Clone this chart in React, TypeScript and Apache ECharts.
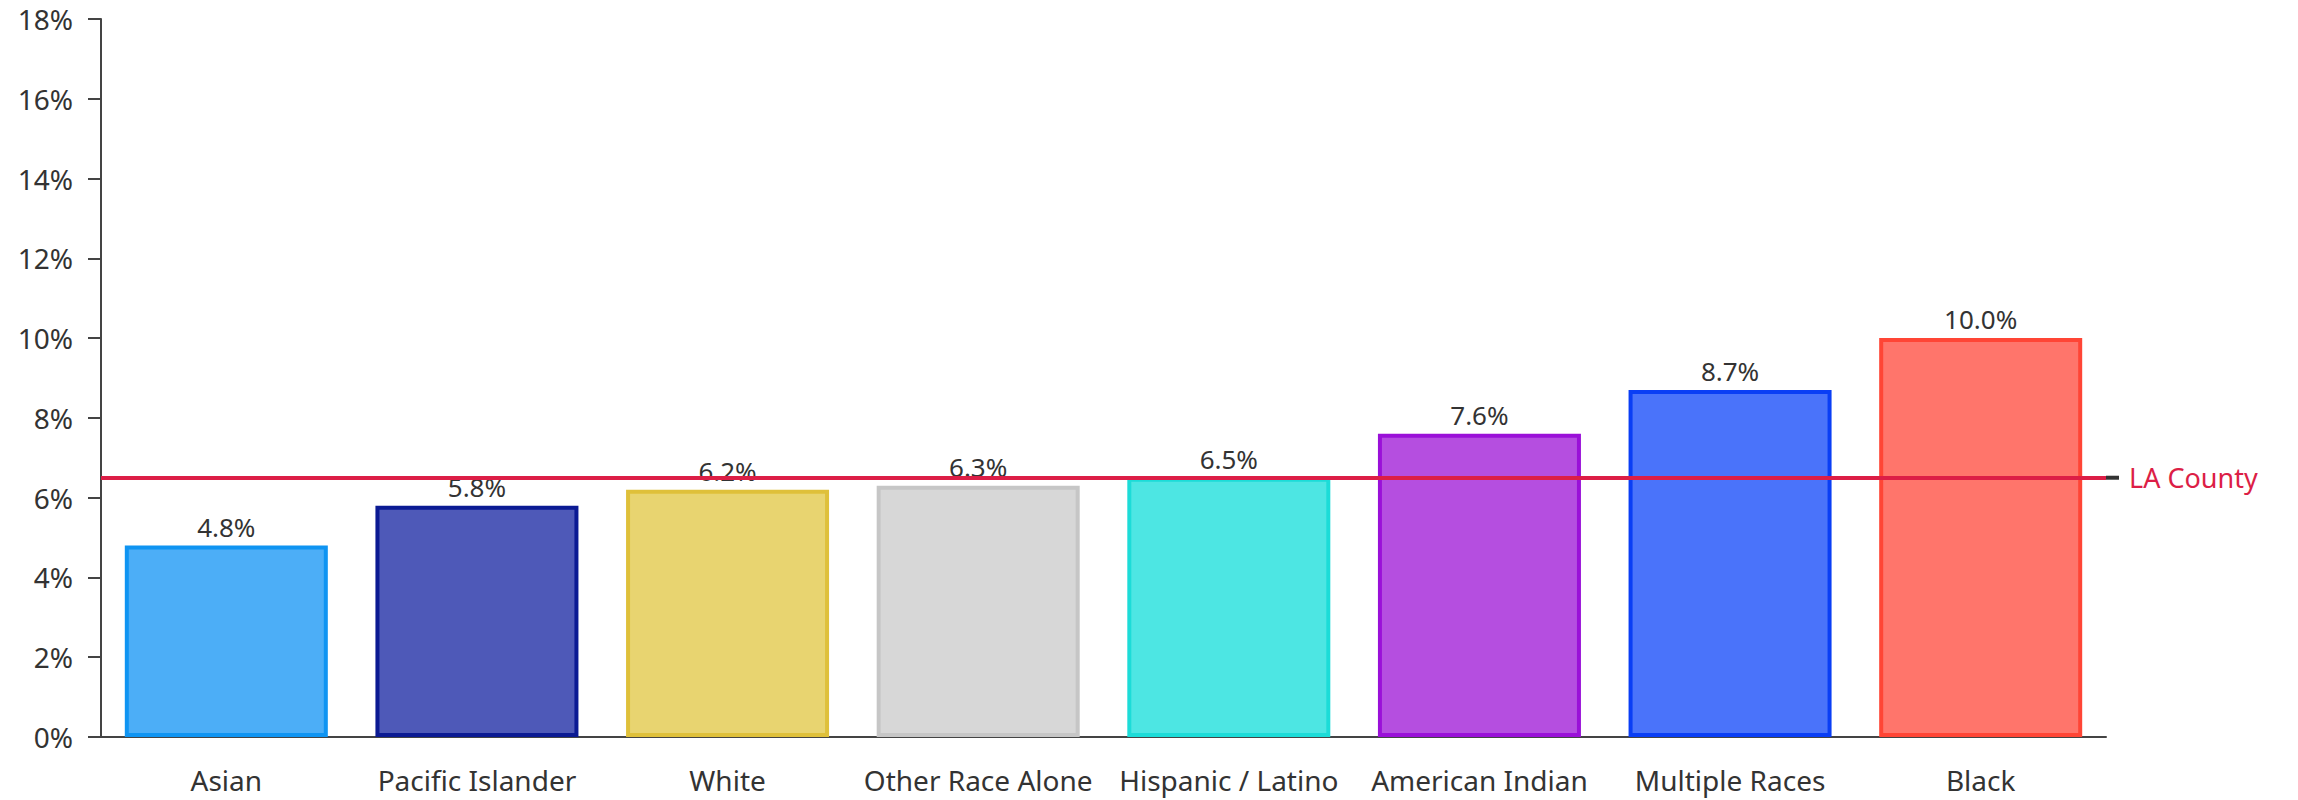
import React, { useEffect, useRef } from "react";
import * as echarts from "echarts";

const categories = [
  "Asian",
  "Pacific Islander",
  "White",
  "Other Race Alone",
  "Hispanic / Latino",
  "American Indian",
  "Multiple Races",
  "Black",
];
const values = [4.8, 5.8, 6.2, 6.3, 6.5, 7.6, 8.7, 10.0];
const fillColors = ["#4caef7", "#4e59b8", "#e8d470", "#d7d7d7", "#4de6e3", "#b54ee0", "#4a73fa", "#ff756b"];
const borderColors = ["#0f94f2", "#0b1a93", "#dfc03a", "#c6c6c6", "#1cdcd8", "#9a10d8", "#0a3ef5", "#ff4535"];
const referenceLabel = "LA County";
const referenceValue = 6.5;

const FONT = "Noto Sans";

export default function App() {
  const ref = useRef<HTMLDivElement>(null);
  useEffect(() => {
    if (!ref.current) return;
    const chart = echarts.init(ref.current, undefined, { renderer: "svg" });
    chart.setOption({
      animation: false,
      grid: { left: 101, right: 192, top: 19, bottom: 63, containLabel: false },
      xAxis: {
        type: "category",
        data: categories,
        axisLine: { lineStyle: { color: "#444", width: 2 } },
        axisTick: { alignWithLabel: true, length: 10, lineStyle: { color: "#444", width: 2 } },
        axisLabel: { color: "#333", fontFamily: FONT, fontSize: 28, lineHeight: 28, margin: 29, interval: 0 },
      },
      yAxis: {
        type: "value",
        min: 0,
        max: 18,
        interval: 2,
        splitLine: { show: false },
        axisLine: { show: true, lineStyle: { color: "#444", width: 2 } },
        axisTick: { show: true, length: 13, lineStyle: { color: "#444", width: 2 } },
        axisLabel: { color: "#333", fontFamily: FONT, fontSize: 28, lineHeight: 28, margin: 28, formatter: "{value}%" },
      },
      series: [
        {
          type: "bar",
          barCategoryGap: "19%",
          data: values.map((v, i) => ({
            value: v,
            itemStyle: { color: fillColors[i], borderColor: borderColors[i], borderWidth: 4 },
          })),
          label: {
            show: true,
            position: "top",
            distance: 6,
            color: "#333",
            fontFamily: FONT,
            fontSize: 26,
            formatter: (p: any) => p.value.toFixed(1) + "%",
          },
          markLine: {
            silent: true,
            symbol: "none",
            z: 10,
            lineStyle: { color: "#dc1e46", width: 4, type: "solid" },
            label: {
              show: true,
              position: "end",
              distance: 0,
              formatter: "{stub|}{txt|" + referenceLabel + "}",
              rich: {
                stub: { width: 13, height: 4, backgroundColor: "#333" },
                txt: { color: "#dc1e46", fontFamily: FONT, fontSize: 27, padding: [0, 0, 0, 10] },
              },
            },
            data: [{ yAxis: referenceValue }],
          },
        },
      ],
    });
    return () => chart.dispose();
  }, []);
  return (
    <div
      ref={ref}
      style={{ position: "fixed", left: 0, top: 0, width: 2298, height: 800, background: "#fff" }}
    />
  );
}
